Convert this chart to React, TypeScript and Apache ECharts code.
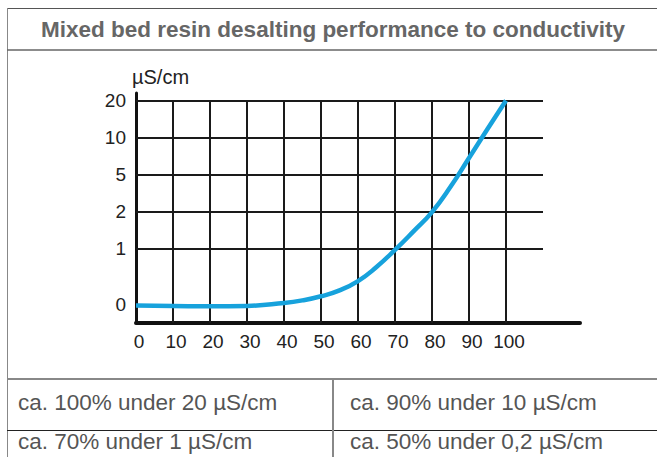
import React, { useEffect, useRef } from "react";
import * as echarts from "echarts";

const titleText = "Mixed bed resin desalting performance to conductivity";
const unitLabel = "µS/cm";
const xTicks = [0, 10, 20, 30, 40, 50, 60, 70, 80, 90, 100];
const xGridValues = [10, 20, 30, 40, 50, 60, 70, 80, 90, 100];
// y axis is a non-linear scale: each label sits at a grid position
const yTickPos = [0.5, 2, 3, 4, 5, 6];
const yTickLabels = ["0", "1", "2", "5", "10", "20"];
const yGridPos = [2, 3, 4, 5, 6];
// curve, in grid positions of the y scale
const curveX = [0, 10, 20, 30, 40, 45, 50, 55, 60, 65, 70, 75, 80, 85, 90, 95, 100];
const curvePos = [0.47, 0.46, 0.45, 0.46, 0.54, 0.61, 0.72, 0.88, 1.13, 1.51, 1.97, 2.47, 2.99, 3.67, 4.45, 5.23, 6.0];
const tableCells = [
  "ca. 100% under 20 µS/cm",
  "ca. 90% under 10 µS/cm",
  "ca. 70% under 1 µS/cm",
  "ca. 50% under 0,2 µS/cm",
];

export default function App() {
  const ref = useRef<HTMLDivElement>(null);
  useEffect(() => {
    document.body.style.margin = "0";
    if (!ref.current) return;
    const chart = echarts.init(ref.current, null, { renderer: "svg" });
    const font = "'Liberation Sans', Arial, sans-serif";
    const gridLines: any[] = [];
    xGridValues.forEach((x) => gridLines.push([{ coord: [x, 0] }, { coord: [x, 6] }]));
    yGridPos.forEach((p) => gridLines.push([{ coord: [0, p] }, { coord: [110, p] }]));

    const cellPos = [
      [18, 402],
      [350, 402],
      [18, 441],
      [350, 441],
    ];

    chart.setOption({
      animation: false,
      grid: { left: 136, right: 77, top: 93, height: 230 },
      xAxis: {
        type: "value",
        min: 0,
        max: 120,
        axisLine: { show: true, onZero: false, lineStyle: { color: "#111", width: 4 } },
        axisTick: { show: false },
        splitLine: { show: false },
        axisLabel: {
          customValues: xTicks,
          margin: 9,
          fontSize: 19,
          color: "#222",
          fontFamily: font,
          padding: [0, 0, 0, 6],
        },
      },
      yAxis: {
        type: "value",
        min: 0,
        max: 6.2,
        name: unitLabel,
        nameLocation: "end",
        nameGap: 6,
        nameTextStyle: { align: "left", fontSize: 20, color: "#222", fontFamily: font, padding: [0, 0, 0, -4] },
        axisLine: { show: true, onZero: false, lineStyle: { color: "#111", width: 3 } },
        axisTick: { show: false },
        splitLine: { show: false },
        axisLabel: {
          customValues: yTickPos,
          margin: 10,
          fontSize: 19,
          color: "#222",
          fontFamily: font,
          formatter: (v: number) => {
            const i = yTickPos.findIndex((p) => Math.abs(p - v) < 1e-6);
            return i >= 0 ? yTickLabels[i] : "";
          },
        },
      },
      series: [
        {
          type: "line",
          z: 1,
          data: [[0, 0.5]],
          showSymbol: false,
          symbol: "none",
          lineStyle: { opacity: 0 },
          silent: true,
          markLine: {
            silent: true,
            symbol: ["none", "none"],
            label: { show: false },
            lineStyle: { color: "#1a1a1a", width: 2, type: "solid" },
            data: gridLines,
          },
        },
        {
          type: "line",
          z: 5,
          smooth: 0.5,
          showSymbol: false,
          symbol: "none",
          lineStyle: { color: "#17a2dc", width: 4.5 },
          data: curveX.map((x, i) => [x, curvePos[i]]),
        },
      ],
      graphic: [
        { type: "line", shape: { x1: 7, y1: 8.5, x2: 657, y2: 8.5 }, style: { stroke: "#555", lineWidth: 1 } },
        { type: "line", shape: { x1: 7.5, y1: 8, x2: 7.5, y2: 457 }, style: { stroke: "#888", lineWidth: 1 } },
        { type: "line", shape: { x1: 7, y1: 50, x2: 657, y2: 50 }, style: { stroke: "#666", lineWidth: 1.5 } },
        { type: "line", shape: { x1: 7, y1: 379, x2: 657, y2: 379 }, style: { stroke: "#888", lineWidth: 2 } },
        { type: "line", shape: { x1: 7, y1: 430.5, x2: 657, y2: 430.5 }, style: { stroke: "#222", lineWidth: 1 } },
        { type: "line", shape: { x1: 333, y1: 379, x2: 333, y2: 457 }, style: { stroke: "#888", lineWidth: 2 } },
        {
          type: "text",
          x: 333,
          y: 29,
          style: {
            text: titleText,
            textAlign: "center",
            textVerticalAlign: "middle",
            font: `bold 22.5px ${font}`,
            fill: "#666",
          },
        },
        ...tableCells.map((t, i) => ({
          type: "text",
          x: cellPos[i][0],
          y: cellPos[i][1],
          style: {
            text: t,
            textAlign: "left",
            textVerticalAlign: "middle",
            font: `22.5px ${font}`,
            fill: "#555",
          },
        })),
      ],
    });
    return () => chart.dispose();
  }, []);
  return <div ref={ref} style={{ width: 657, height: 457 }} />;
}
